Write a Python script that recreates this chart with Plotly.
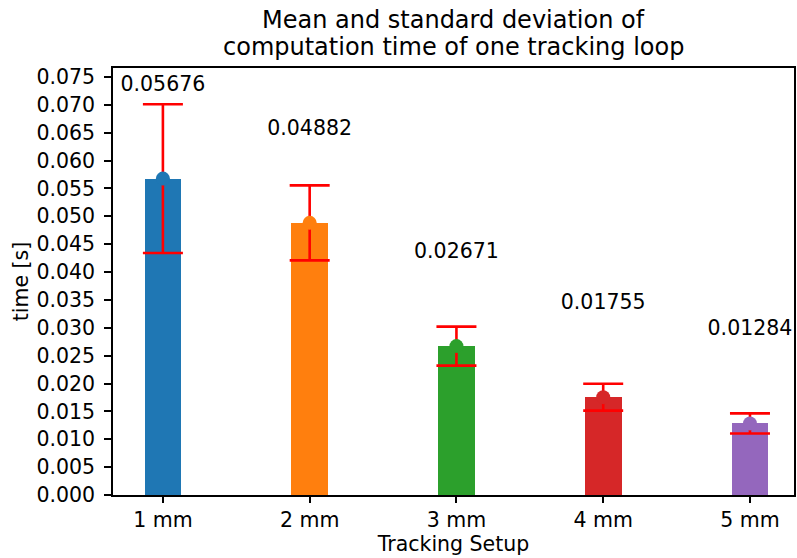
import plotly.graph_objects as go

categories = ["1 mm", "2 mm", "3 mm", "4 mm", "5 mm"]
means = [0.05676, 0.04882, 0.02671, 0.01755, 0.01284]
stds = [0.01335, 0.00673, 0.00350, 0.00242, 0.00180]
labels = ["0.05676", "0.04882", "0.02671", "0.01755", "0.01284"]
colors = ["#1f77b4", "#ff7f0e", "#2ca02c", "#d62728", "#9467bd"]
title_lines = ["Mean and standard deviation of", "computation time of one tracking loop"]
label_offset = 0.0167

x = list(range(len(categories)))
font = "DejaVu Sans"
fs = 20.5

fig = go.Figure()
fig.add_trace(go.Bar(x=x, y=means, width=0.25, marker=dict(color=colors, line=dict(width=0)),
                     showlegend=False, hoverinfo="skip"))
fig.add_trace(go.Scatter(x=x, y=means, mode="markers", marker=dict(size=0.1, opacity=0),
                         error_y=dict(type="data", array=stds, visible=True, color="red",
                                      thickness=2.6, width=20),
                         showlegend=False, hoverinfo="skip"))
fig.add_trace(go.Scatter(x=x, y=means, mode="markers",
                         marker=dict(size=14, color=colors, line=dict(width=0)),
                         showlegend=False, hoverinfo="skip"))
fig.add_trace(go.Scatter(x=x, y=[m + label_offset for m in means], mode="text", text=labels,
                         textposition="middle center",
                         textfont=dict(family=font, size=fs, color="black"),
                         showlegend=False, hoverinfo="skip"))

plot_h = 558 - 68 - 63
fig.update_layout(
    width=797, height=558,
    margin=dict(l=113, r=1, t=68, b=63),
    plot_bgcolor="white", paper_bgcolor="white",
    font=dict(family=font, size=fs, color="black"),
    bargap=0,
    annotations=[
        dict(text=title_lines[0], xref="paper", yref="paper", x=0.5, y=(495 - 20) / plot_h,
             xanchor="center", yanchor="middle", showarrow=False, height=26,
             font=dict(family=font, size=24, color="black")),
        dict(text=title_lines[1], xref="paper", yref="paper", x=0.5, y=(495 - 47) / plot_h,
             xanchor="center", yanchor="middle", showarrow=False, height=26,
             font=dict(family=font, size=24, color="black")),
    ],
)
fig.update_xaxes(range=[-0.34, 4.30], tickvals=x, ticktext=categories,
                 showline=True, linecolor="black", linewidth=1.6, mirror=True,
                 ticks="outside", ticklen=6, tickwidth=1.6, tickcolor="black",
                 showgrid=False, zeroline=False,
                 title=dict(text="Tracking Setup", font=dict(family=font, size=fs), standoff=5),
                 tickfont=dict(family=font, size=fs))
fig.update_yaxes(range=[0, 0.0766], tickmode="linear", tick0=0, dtick=0.005, tickformat=".3f",
                 showline=True, linecolor="black", linewidth=1.6, mirror=True,
                 ticks="outside", ticklen=7, tickwidth=1.6, tickcolor="black",
                 showgrid=False, zeroline=False, ticklabelstandoff=5,
                 title=dict(text="time [s]", font=dict(family=font, size=fs), standoff=2),
                 tickfont=dict(family=font, size=fs))

fig.write_html("out.html")
